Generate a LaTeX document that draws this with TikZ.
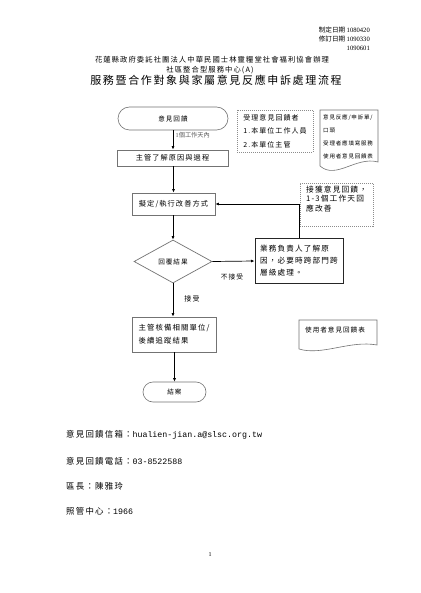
\documentclass[tikz,border=0pt]{standalone}
\usepackage{fontspec}
\setmainfont{Liberation Serif}
\newfontfamily\cjk[LetterSpace=15]{Noto Sans CJK TC}
\newfontfamily\cjkn{Noto Sans CJK TC}
\newfontfamily\monof{Liberation Mono}
\usetikzlibrary{shapes.geometric,shapes.misc,arrows.meta}
\newcommand\myfs[2]{\fontsize{#1}{#2}\selectfont}
\definecolor{lineg}{gray}{0.45}
\definecolor{dotg}{gray}{0.55}
\tikzset{
  term/.style={draw=lineg, line width=0.6pt, rounded rectangle, inner sep=0pt},
  stepbox/.style={draw=lineg, line width=0.8pt, rectangle, inner sep=0pt},
  darkbox/.style={draw=black!85, line width=1pt, rectangle, inner sep=0pt},
  dotbox/.style={draw=dotg, line width=0.6pt, dash pattern=on 1pt off 1pt, rectangle, inner sep=0pt},
  decide/.style={draw=lineg, line width=0.7pt, diamond, inner sep=0pt},
  docshape/.style={draw=lineg, line width=0.6pt},
  arr/.style={draw=black, line width=0.7pt, -{Latex[length=3.5pt,width=3pt]}},
  txt/.style={inner sep=0pt, align=left}
}
\begin{document}
\begin{tikzpicture}[x=1pt,y=-1pt]
\useasboundingbox[fill=white] (0,0) rectangle (420,593);

% header
\node[txt, anchor=east, font={\cjkn\myfs{6.6}{8}}] (d1) at (370,30) {制定日期 {\rmfamily 1080420}};
\node[txt, anchor=east, font={\cjkn\myfs{6.6}{8}}] (d2) at (370,39) {修訂日期 {\rmfamily 1090330}};
\node[txt, anchor=east, font={\rmfamily\myfs{6.6}{8}}] (d3) at (370,48) {1090601};
\node[txt, font={\cjk\myfs{7.3}{9}}] (h1) at (212,60) {花蓮縣政府委託社團法人中華民國士林靈糧堂社會福利協會辦理};
\node[txt, font={\cjk\myfs{7.3}{9}}] (h2) at (210,70) {社區整合型服務中心(A)};
\node[txt, font={\cjk\myfs{11}{13}}] (title) at (216,80.5) {服務暨合作對象與家屬意見反應申訴處理流程};

% flow nodes
\node[term, minimum width=110pt, minimum height=23pt, font={\cjk\myfs{6.6}{8}}] (start) at (173,118.5) {意見回饋};
\node[stepbox, minimum width=111pt, minimum height=16pt, font={\cjk\myfs{7.2}{9}}] (b1) at (172.5,158) {主管了解原因與過程};
\node[stepbox, minimum width=83pt, minimum height=22pt, font={\cjk\myfs{7.2}{9}}] (b2) at (173.5,204) {擬定/執行改善方式};
\node[decide, minimum width=78pt, minimum height=43pt, font={\cjk\myfs{6.6}{8}}] (dia) at (173,261.5) {回覆結果};
\node[darkbox, minimum width=88pt, minimum height=44pt, align=left, font={\cjk\myfs{7.6}{12}}] (b3) at (299,261) {業務負責人了解原\\因，必要時跨部門跨\\層級處理。};
\node[stepbox, minimum width=84pt, minimum height=35pt, align=left, font={\cjk\myfs{7.4}{13}}] (b4) at (174,334.5) {主管核備相關單位/\\後續追蹤結果};
\node[term, minimum width=63pt, minimum height=20pt, font={\cjk\myfs{6.6}{8}}] (end) at (174.5,392) {結案};

% dotted note boxes
\node[dotbox, minimum width=76pt, minimum height=42pt, align=left, font={\cjk\myfs{7}{13.5}}] (n1) at (275,131) {受理意見回饋者\\1.本單位工作人員\\2.本單位主管};
\node[dotbox, minimum width=73pt, minimum height=43pt] (n2) at (336.5,204.5) {};
\node[txt, anchor=north west, font={\cjk\myfs{7.7}{9.5}}] (n2t) at (306,185.5) {接獲意見回饋，\\1-3個工作天回\\應改善};

% document shapes
\draw[docshape] (320,110) -- (378,110) -- (378,162) .. controls (356,156) and (336,180) .. (320,166) -- cycle;
\node[txt, anchor=north west, font={\cjk\myfs{5.5}{13}}] (doc1t) at (323,114.5) {意見反應/申訴單/\\口頭\\受理者應填寫服務\\使用者意見回饋表};
\draw[docshape] (299,320) -- (377,320) -- (377,345) .. controls (350,340) and (322,356) .. (299,349) -- cycle;
\node[txt, anchor=west, font={\cjk\myfs{6.6}{8}}] (doc2t) at (305,330) {使用者意見回饋表};

% connectors
\draw[arr] (start.south) -- (start.south |- b1.north);
\draw[arr] (b1.south -| b2.north) -- (b2.north);
\draw[arr] (b2.south -| dia.north) -- (dia.north);
\draw[arr] (dia.east) -- (b3.west);
\draw[arr] (b3.north) |- (b2.east);
\draw[arr] (dia.south) -- (dia.south |- b4.north);
\draw[arr] (end.north |- b4.south) -- (end.north);

% connector labels
\node[txt, anchor=west, text=black!65, font={\myfs{6.2}{8}}] (l1) at (175.5,135) {1{\cjkn 個工作天內}};
\node[txt, font={\cjk\myfs{6.7}{8}}] (l2) at (232,276.5) {不接受};
\node[txt, font={\cjk\myfs{7}{8}}] (l3) at (192,299) {接受};

% footer info
\node[txt, anchor=west, font={\cjk\myfs{8.4}{10}}] (f1) at (66,435) {意見回饋信箱：{\monof\myfs{8.3}{10}hualien-jian.a@slsc.org.tw}};
\node[txt, anchor=west, font={\cjk\myfs{8.4}{10}}] (f2) at (66,461) {意見回饋電話：{\monof\myfs{8.3}{10}03-8522588}};
\node[txt, anchor=west, font={\cjk\myfs{8.4}{10}}] (f3) at (66,486) {區長：陳雅玲};
\node[txt, anchor=west, font={\cjk\myfs{8.4}{10}}] (f4) at (66,511) {照管中心：{\monof\myfs{8.3}{10}1966}};
\node[txt, font={\myfs{6}{8}}] (pg) at (210,555) {1};
\end{tikzpicture}
\end{document}
